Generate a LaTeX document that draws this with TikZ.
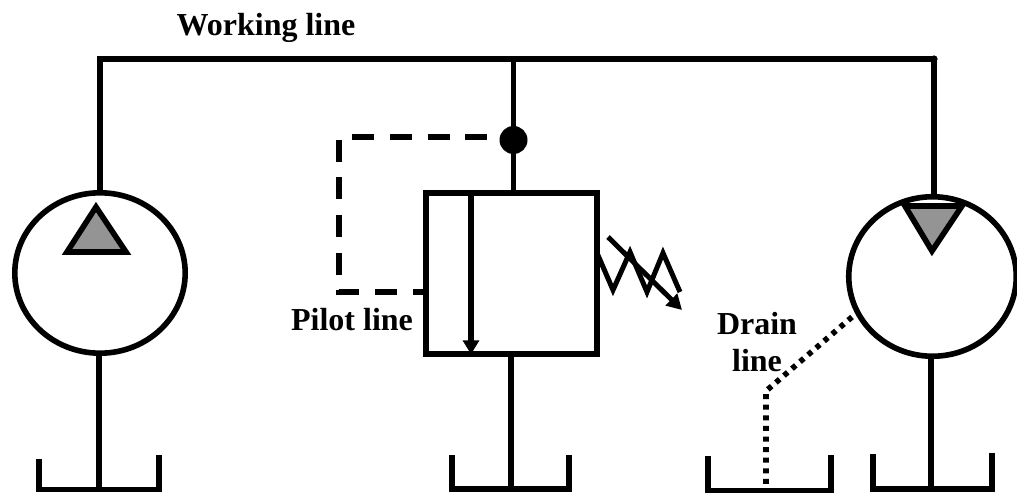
\documentclass[tikz,border=0pt]{standalone}
\usepackage{fontspec}
\setmainfont{Liberation Serif}
\usetikzlibrary{arrows.meta,positioning,shapes.geometric}
\tikzset{%
   pipe/.style={line width=5.6pt, line cap=butt},
   pump/.style={ellipse, draw=black, line width=5.6pt, inner sep=0mm, outer sep=0mm},
   valvebox/.style={rectangle, draw=black, line width=5.6pt, inner sep=0mm, outer sep=0mm, minimum width=171.5pt, minimum height=161.5pt},
   junction/.style={circle, inner sep=0mm, outer sep=0mm, minimum size=28pt, fill=black},
   wedge/.style={line width=5.6pt, fill=black!42, line join=miter},
   pilot/.style={line width=5.6pt, dash pattern=on 22pt off 15.7pt, dash phase=9pt},
   drain/.style={line width=5.6pt, dash pattern=on 5pt off 5.6pt},
   lbl/.style={font=\fontsize{32}{37}\selectfont\bfseries, inner sep=0pt, align=center},
   tankline/.style={line width=5.6pt, line join=miter},
}
\begin{document}
\begin{tikzpicture}[x=1pt, y=-1pt]
      \useasboundingbox (0,0) rectangle (1017,494);
      \node[pump, minimum width=170.4pt, minimum height=160.4pt] (pa) at (100,273) {};
      \node[pump, minimum width=167.5pt, minimum height=159.5pt] (pb) at (932.5,276.5) {};
      \node[valvebox] (v) at (511.5,273.5) {};
      \node[junction] (j) at (513.5,140) {};
      \node[lbl] (lw) at (266,28) {Working line};
      \node[lbl] (lp) at (352,320) {Pilot line};
      \node[lbl] (ld) at (757,342) {Drain\\line};
      % working line
      \coordinate (wa) at (pa.north |- 0,59);
      \coordinate (wb) at (934,59);
      \coordinate (wc) at (j |- wa);
      \coordinate (wd) at (934,194);
      \draw[pipe] (wa) -- (pa.north);
      \draw[pipe] ([xshift=-2.8pt]wa) -- (wb);
      \draw[pipe] (wc) -- (j);
      \draw[pipe] (j) -- (j |- v.north);
      \draw[pipe] (wb) -- (wd);
      \fill (wb) circle (3.6pt);
      % tanks
      \coordinate (ta) at (99,489.5);
      \coordinate (tb) at (511,489);
      \coordinate (tc) at (766,490.5);
      \coordinate (td) at (931,489);
      \draw[tankline] (39,459) |- (ta) -| (159,455);
      \draw[tankline] (452,455) |- (tb) -| (569,455);
      \draw[tankline] (708,456) |- (tc) -| (831,455);
      \draw[tankline] (873,454) |- (td) -| (992,453);
      \draw[pipe] (pa.south -| ta) -- (ta);
      \draw[pipe] (v.south -| tb) -- (tb);
      \draw[pipe] (pb.south -| td) -- (td);
      % triangles
      \coordinate (ua) at (96,207);
      \coordinate (ub) at (67,252);
      \coordinate (uc) at (126,252);
      \draw[wedge] (ua) -- (ub) -- (uc) -- cycle;
      \coordinate (da) at (905,206);
      \coordinate (db) at (962,206);
      \coordinate (dc) at (932,251);
      \draw[wedge] (da) -- (db) -- (dc) -- cycle;
      % pilot and drain
      \coordinate (pt) at (339,137);
      \coordinate (pm) at (339,292);
      \draw[pilot] (v.west |- pm) -- (pm) -- (pt) -- (j.west |- pt);
      \coordinate (dk) at (766,391);
      \draw[drain] (852,317) -- (dk) -- (tc);
      % inner arrow
      \coordinate (ax) at (471,193);
      \draw[line width=5.6pt, -{Triangle[length=14pt,width=16pt]}] (ax) -- (ax |- v.south);
      % spring
      \draw[line width=5pt] (597,253) -- (613,290) -- (630,252) -- (647,292) -- (663,253) -- (680,292);
      \coordinate (sa) at (608,237);
      \coordinate (sb) at (682,310);
      \draw[line width=5pt, -{Triangle[length=15pt,width=16pt]}] (sa) -- (sb);
\end{tikzpicture}
\end{document}
